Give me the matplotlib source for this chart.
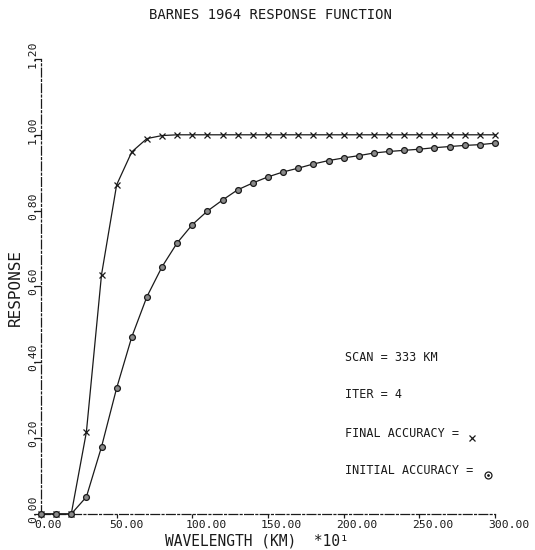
#!/usr/bin/env python3
# -*- coding: utf-8 -*-

import matplotlib
matplotlib.use("Agg")
import matplotlib.pyplot as plt
import matplotlib.transforms as mtransforms
import numpy as np

# wavelength (km * 10) sampled every 10 units
wavelength = np.arange(0, 301, 10)

# response after the final pass (x markers)
final_resp = [0.0, 0.0, 0.0, 0.216, 0.631, 0.868, 0.955, 0.99, 0.998, 1.0,
              1.0, 1.0, 1.0, 1.0, 1.0, 1.0, 1.0, 1.0, 1.0, 1.0,
              1.0, 1.0, 1.0, 1.0, 1.0, 1.0, 1.0, 1.0, 1.0, 1.0, 1.0]

# response after the first pass (circle markers)
initial_resp = [0.0, 0.0, 0.0, 0.045, 0.177, 0.332, 0.467, 0.573, 0.652, 0.715,
                0.763, 0.799, 0.828, 0.855, 0.873, 0.889, 0.902, 0.912, 0.923, 0.932,
                0.939, 0.945, 0.952, 0.956, 0.959, 0.962, 0.966, 0.969, 0.972, 0.974, 0.978]

xticks = [0, 50, 100, 150, 200, 250, 300]
xtick_labels = ["0.00", "50.00", "100.00", "150.00", "200.00", "250.00", "300.00"]
yticks = [0.0, 0.2, 0.4, 0.6, 0.8, 1.0, 1.2]
ytick_labels = ["0.00", "0.20", "0.40", "0.60", "0.80", "1.00", "1.20"]

notes = ["SCAN = 333 KM", "ITER = 4", "FINAL ACCURACY =", "INITIAL ACCURACY ="]

mono = "DejaVu Sans Mono"
ink = "#1a1a1a"

fig = plt.figure(figsize=(5.35, 5.5), dpi=100)
ax = fig.add_axes((0.0766, 0.0655, 0.8486, 0.8273))

ax.plot(wavelength, final_resp, color=ink, lw=0.9, marker="x",
        ms=5, mew=0.9, mec=ink, clip_on=False, zorder=3)
ax.plot(wavelength, initial_resp, color=ink, lw=0.9, marker="o",
        ms=4.2, mew=0.9, mec=ink, mfc="#8a8a8a", clip_on=False, zorder=3)

ax.set_xlim(0, 300)
ax.set_ylim(0, 1.2)

for side in ("top", "right"):
    ax.spines[side].set_visible(False)
for side in ("left", "bottom"):
    ax.spines[side].set_linestyle((0, (7, 2, 1.5, 2)))
    ax.spines[side].set_linewidth(0.9)
    ax.spines[side].set_color(ink)

ax.set_xticks(xticks)
ax.set_xticklabels(xtick_labels, fontfamily=mono, fontsize=8.2, ha="left")
ax.set_yticks(yticks)
ax.set_yticklabels(ytick_labels, fontfamily=mono, fontsize=8.2,
                   rotation=90, va="bottom", ha="right")
ax.tick_params(axis="x", direction="out", length=3, width=0.9, pad=1.2, colors=ink)
ax.tick_params(axis="y", direction="out", length=5, width=0.9, pad=0, colors=ink)

# plotter style: labels start just before their tick
dx = mtransforms.ScaledTranslation(-7 / 100, 0, fig.dpi_scale_trans)
for lab in ax.get_xticklabels():
    lab.set_transform(lab.get_transform() + dx)
dy = mtransforms.ScaledTranslation(4 / 100, -9 / 100, fig.dpi_scale_trans)
for lab in ax.get_yticklabels():
    lab.set_transform(lab.get_transform() + dy)

ax.set_xlabel("WAVELENGTH (KM)  *10\u00b9", fontfamily=mono, fontsize=10.5, color=ink)
ax.xaxis.set_label_coords(0.476, -0.042)
ax.set_ylabel("RESPONSE", fontfamily=mono, fontsize=11.5, color=ink)
ax.yaxis.set_label_coords(-0.040, 0.497)

fig.text(0.505, 0.972, "BARNES 1964 RESPONSE FUNCTION", ha="center", va="center",
         fontfamily=mono, fontsize=10, color=ink)

note_y = [0.343, 0.262, 0.176, 0.0945]
for txt, y in zip(notes, note_y):
    ax.text(0.67, y, txt, transform=ax.transAxes, fontfamily=mono,
            fontsize=8.5, va="center", ha="left", color=ink)

# key symbols
ax.plot([0.949], [0.168], transform=ax.transAxes, marker="x", ms=5, mew=0.9,
        color=ink, clip_on=False)
ax.plot([0.985], [0.086], transform=ax.transAxes, marker="o", ms=5, mew=0.9,
        mec=ink, mfc="white", clip_on=False)
ax.plot([0.985], [0.086], transform=ax.transAxes, marker=".", ms=2,
        color=ink, clip_on=False)

fig.savefig("out.png", dpi=100)
